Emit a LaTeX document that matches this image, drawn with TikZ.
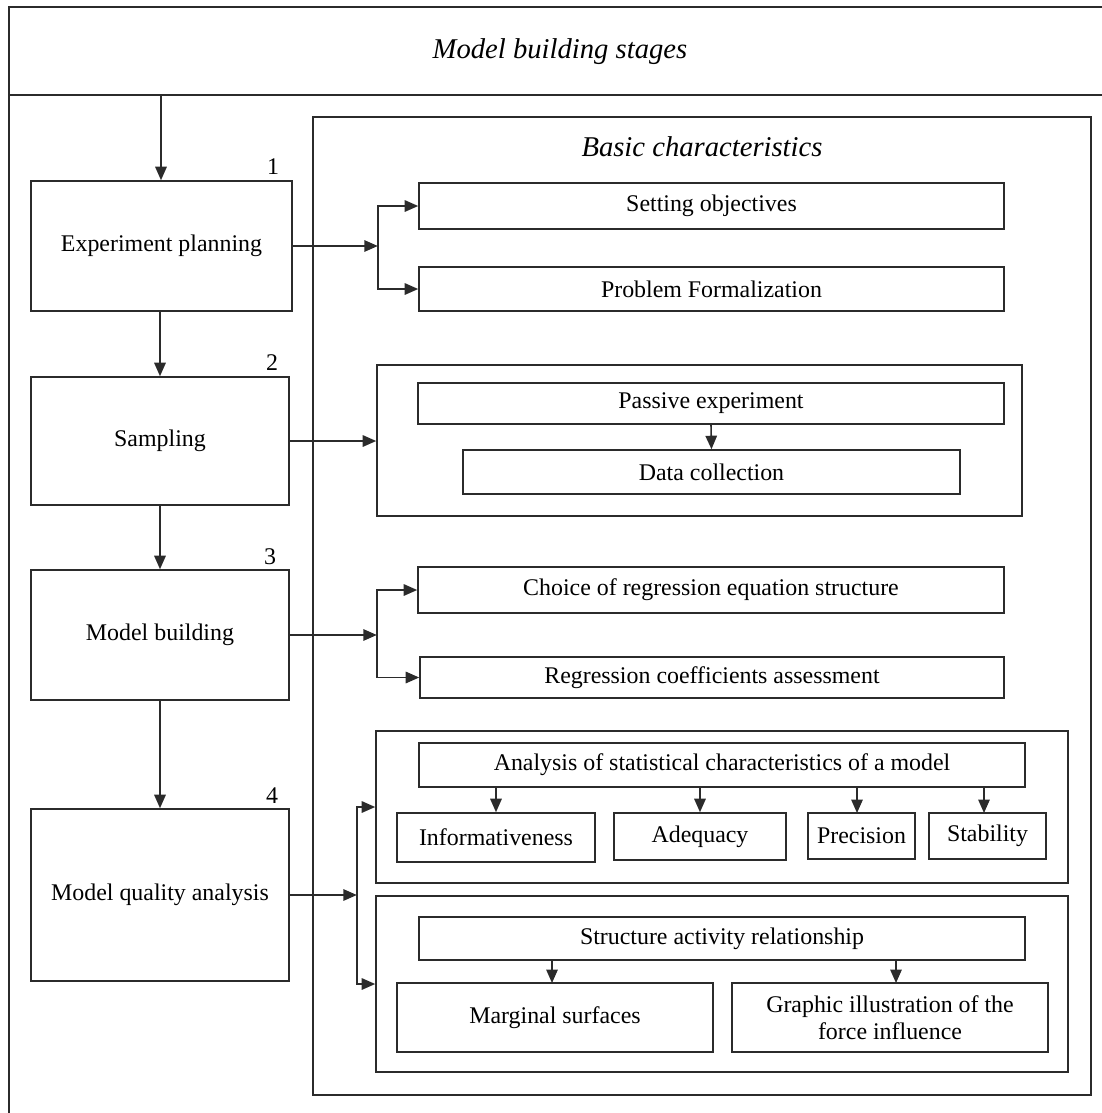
\documentclass[tikz,border=0pt]{standalone}
\usepackage{fontspec}
\setmainfont{Liberation Serif}
\usetikzlibrary{fit,arrows.meta}
\definecolor{linec}{HTML}{2B2B2B}
\tikzset{
 box/.style={draw=linec, line width=0.9pt, inner sep=0pt, align=center, font=\fontsize{13.6}{15.5}\selectfont},
 frame/.style={draw=linec, line width=0.9pt, inner sep=0pt},
 arr/.style={draw=linec, line width=0.9pt, -{Triangle[length=0.27cm,width=0.23cm]}},
 ln/.style={draw=linec, line width=0.9pt},
 ttl/.style={font=\fontsize{16.3}{19}\selectfont\itshape, inner sep=0pt},
 numl/.style={font=\fontsize{13.6}{15}\selectfont, inner sep=0pt},
}
\newcommand\bx[6]{%
 \pgfmathsetmacro\bcx{(#2+#4)/2}\pgfmathsetmacro\bcy{(#3+#5)/2}%
 \pgfmathsetmacro\bw{(#4-#2)*0.02}\pgfmathsetmacro\bh{(#5-#3)*0.02}%
 \node[box, minimum width=\bw cm, minimum height=\bh cm] (#1) at (\bcx,\bcy) {#6};}
\begin{document}
\begin{tikzpicture}[x=0.02cm,y=-0.02cm]
\useasboundingbox (0,0) rectangle (1102,1113);
\clip (0,0) rectangle (1102,1113);
% outer frame and header
\node[frame, fit={(9,7)(1108,95)}] (hdr) {};
\node[ttl] (title) at (560,52) {Model building stages};
\coordinate (ol) at (9,95);
\coordinate (olb) at (9,1120);
\draw[ln] (ol) -- (olb);
% basic characteristics frame
\node[frame, fit={(313,117)(1091,1095)}] (basic) {};
\node[ttl] (btitle) at (702,147) {Basic characteristics};
% stage boxes
\bx{b1}{31}{181}{292}{311}{Experiment planning}
\bx{b2}{31}{377}{289}{505}{Sampling}
\bx{b3}{31}{570}{289}{700}{Model building}
\bx{b4}{31}{809}{289}{981}{Model quality analysis}
\node[numl] (n1) at (273,167) {1};
\node[numl] (n2) at (272,363) {2};
\node[numl] (n3) at (270,557) {3};
\node[numl] (n4) at (272,796) {4};
% right side boxes
\bx{so}{419}{183}{1004}{229}{Setting objectives}
\bx{pf}{419}{267}{1004}{311}{Problem Formalization}
\node[frame, fit={(377,365)(1022,516)}] (sf) {};
\bx{pe}{418}{383}{1004}{424}{Passive experiment}
\bx{dc}{463}{450}{960}{494}{Data collection}
\bx{ch}{418}{567}{1004}{613}{Choice of regression equation structure}
\bx{rc}{420}{657}{1004}{698}{Regression coefficients assessment}
\node[frame, fit={(376,731)(1068,883)}] (stf) {};
\bx{an}{419}{743}{1025}{787}{Analysis of statistical characteristics of a model}
\bx{inf}{397}{813}{595}{862}{Informativeness}
\bx{ade}{614}{813}{786}{860}{Adequacy}
\bx{pre}{808}{813}{915}{859}{Precision}
\bx{sta}{929}{813}{1046}{859}{Stability}
\node[frame, fit={(376,896)(1068,1072)}] (srf) {};
\bx{sar}{419}{917}{1025}{960}{Structure activity relationship}
\bx{mar}{397}{983}{713}{1052}{Marginal surfaces}
\bx{gra}{732}{983}{1048}{1052}{Graphic illustration of the\\force influence}
% connectors on the left
\coordinate (t0) at (161,95);
\draw[arr] (t0) -- (t0 |- b1.north);
\draw[arr] (b2.north |- b1.south) -- (b2.north);
\draw[arr] (b3.north |- b2.south) -- (b3.north);
\draw[arr] (b4.north |- b3.south) -- (b4.north);
% stage 1
\path (b1.east) -- ++(85,0) coordinate (j1);
\draw[arr] (b1.east) -- (j1);
\draw[arr] (j1) |- (so.west);
\draw[arr] (j1) |- (pf.west);
% stage 2
\draw[arr] (b2.east) -- (sf.west |- b2.east);
\draw[arr] (pe.south) -- (dc.north);
% stage 3
\path (b3.east) -- ++(87,0) coordinate (j3);
\draw[arr] (b3.east) -- (j3);
\draw[arr] (j3) |- (ch.west);
\draw[arr] (j3) |- (rc.west);
% stage 4
\path (b4.east) -- ++(67,0) coordinate (j4);
\draw[arr] (b4.east) -- (j4);
\draw[arr] (j4) |- (stf.west);
\draw[arr] (j4) |- (srf.west);
% analysis
\draw[arr] (an.south -| inf.north) -- (inf.north);
\draw[arr] (an.south -| ade.north) -- (ade.north);
\draw[arr] (an.south -| 857,0) -- (857,813);
\draw[arr] (an.south -| 984,0) -- (984,813);
% structure
\draw[arr] (sar.south -| 552,0) -- (552,983);
\draw[arr] (sar.south -| 896,0) -- (896,983);
\end{tikzpicture}
\end{document}
